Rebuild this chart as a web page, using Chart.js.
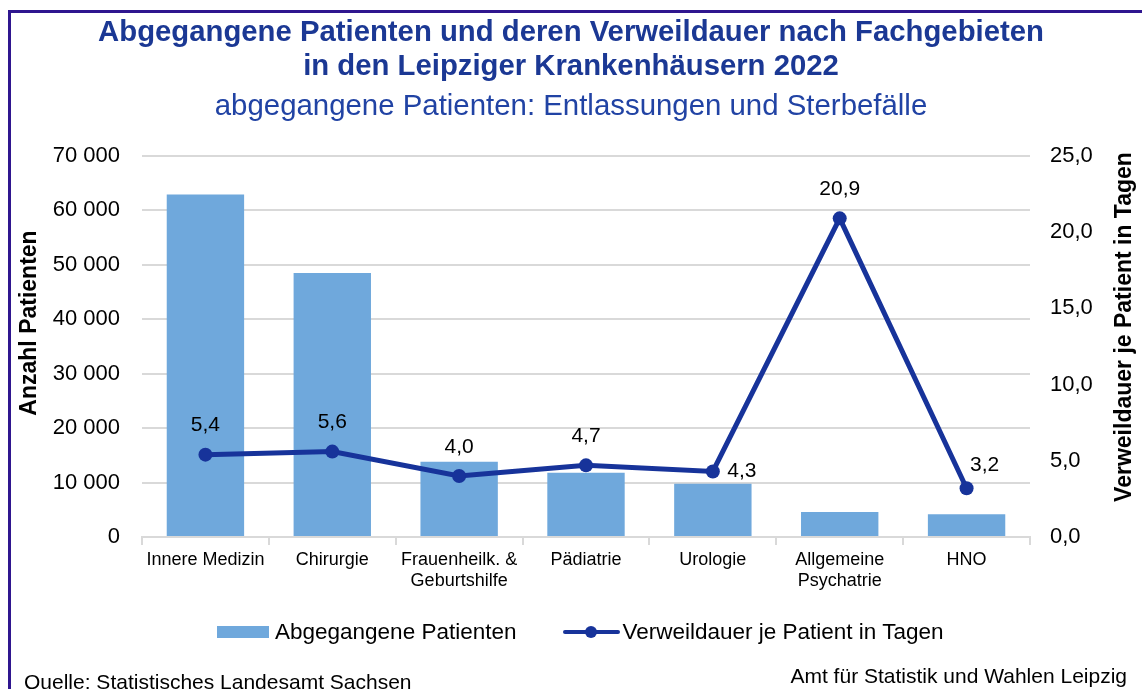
<!DOCTYPE html>
<html lang="de">
<head>
<meta charset="utf-8">
<title>Abgegangene Patienten und Verweildauer</title>
<script src="https://cdn.jsdelivr.net/npm/chart.js@4.4.1/dist/chart.umd.min.js"></script>
<style>
  html, body { margin: 0; padding: 0; background: #fff; }
  body { width: 1142px; height: 689px; position: relative; overflow: hidden;
         font-family: 'Liberation Sans', Arial, sans-serif; }
  #frame { position: absolute; left: 8px; top: 10px; width: 1160px; height: 720px;
           border: 3px solid #2f168f; box-sizing: border-box; }
  #wrap { position: absolute; left: 0; top: 0; width: 1142px; height: 689px; }
  #legend { position: absolute; left: 217px; top: 618px; height: 28px;
            display: flex; align-items: center; font-size: 22.5px; color: #000; }
  .lg-box { width: 52px; height: 12px; background: #6fa8dc; margin-right: 6px; }
  .lg-line { position: relative; width: 57px; height: 4px; background: #17339a;
             margin-left: 47px; margin-right: 2px; border-radius: 2px; }
  .lg-line::after { content: ''; position: absolute; left: 22px; top: -4px;
                    width: 12px; height: 12px; border-radius: 50%; background: #17339a; }
  .foot { position: absolute; font-size: 21px; color: #000; white-space: nowrap; }
</style>
</head>
<body>
<div id="frame"></div>
<div id="wrap"><canvas id="chart" width="1142" height="689"></canvas></div>
<div id="legend">
  <span class="lg-box"></span><span>Abgegangene Patienten</span>
  <span class="lg-line"></span><span>Verweildauer je Patient in Tagen</span>
</div>
<div class="foot" style="left:24px; top:670px;">Quelle: Statistisches Landesamt Sachsen</div>
<div class="foot" style="right:15px; top:664px;">Amt für Statistik und Wahlen Leipzig</div>

<script>
// ---- data ----
const categories = [
  'Innere Medizin',
  'Chirurgie',
  ['Frauenheilk. &', 'Geburtshilfe'],
  'Pädiatrie',
  'Urologie',
  ['Allgemeine', 'Psychatrie'],
  'HNO'
];
const patients = [62900, 48500, 13800, 11800, 9800, 4600, 4200];
const stayDays = [5.4, 5.6, 4.0, 4.7, 4.3, 20.9, 3.2];

const leftMax = 70000, leftStep = 10000;
const rightMax = 25, rightStep = 5;

// label placement for line values (style only)
const labelPos = ['top', 'top', 'top', 'top', 'right', 'top', 'topright'];

const COLORS = {
  bar:   '#6fa8dc',
  line:  '#17339a',
  title: '#1b3894',
  sub:   '#2143a4',
  grid:  '#d9d9d9',
  text:  '#000000',
};
const FONT = "'Liberation Sans', Arial, sans-serif";

const fmtThousands = v => String(v).replace(/\B(?=(\d{3})+(?!\d))/g, ' ');
const fmtDec = v => v.toFixed(1).replace('.', ',');

// value labels on the line + rotated axis titles
const extras = {
  id: 'extras',
  afterDatasetsDraw(chart) {
    const ctx = chart.ctx;
    const meta = chart.getDatasetMeta(1);
    ctx.save();
    ctx.font = '21px ' + FONT;
    ctx.fillStyle = COLORS.text;
    ctx.textAlign = 'center';
    ctx.textBaseline = 'middle';
    meta.data.forEach((pt, i) => {
      let dx = 0, dy = -29;
      if (labelPos[i] === 'right') { dx = 29; dy = 0; }
      if (labelPos[i] === 'topright') { dx = 18; dy = -23; }
      ctx.fillText(fmtDec(stayDays[i]), pt.x + dx, pt.y + dy);
    });
    ctx.restore();
  },
  afterDraw(chart) {
    const ctx = chart.ctx;
    ctx.save();
    ctx.font = 'bold 23px ' + FONT;
    ctx.fillStyle = COLORS.text;
    ctx.textAlign = 'center';
    ctx.textBaseline = 'middle';
    ctx.translate(30, 323);
    ctx.rotate(-Math.PI / 2);
    ctx.fillText('Anzahl Patienten', 0, 0);
    ctx.restore();
    ctx.save();
    ctx.font = 'bold 23px ' + FONT;
    ctx.fillStyle = COLORS.text;
    ctx.textAlign = 'center';
    ctx.textBaseline = 'middle';
    ctx.translate(1125, 327);
    ctx.rotate(-Math.PI / 2);
    ctx.fillText('Verweildauer je Patient in Tagen', 0, 0);
    ctx.restore();
  }
};

new Chart(document.getElementById('chart'), {
  data: {
    labels: categories,
    datasets: [
      {
        type: 'bar',
        label: 'Abgegangene Patienten',
        data: patients,
        backgroundColor: COLORS.bar,
        borderWidth: 0,
        barPercentage: 0.61,
        categoryPercentage: 1,
        yAxisID: 'y',
        order: 2,
      },
      {
        type: 'line',
        label: 'Verweildauer je Patient in Tagen',
        data: stayDays,
        borderColor: COLORS.line,
        backgroundColor: COLORS.line,
        borderWidth: 5,
        pointRadius: 7,
        pointBackgroundColor: COLORS.line,
        pointBorderWidth: 0,
        tension: 0,
        yAxisID: 'y1',
        order: 1,
      }
    ]
  },
  options: {
    responsive: false,
    animation: false,
    layout: { padding: 0 },
    plugins: {
      legend: { display: false },
      tooltip: { enabled: false },
      title: {
        display: true,
        text: ['Abgegangene Patienten und deren Verweildauer nach Fachgebieten',
               'in den Leipziger Krankenhäusern 2022'],
        color: COLORS.title,
        font: { family: FONT, size: 29.3, weight: 'bold', lineHeight: 34 / 29.3 },
        padding: { top: 16, bottom: 0 },
      },
      subtitle: {
        display: true,
        text: 'abgegangene Patienten: Entlassungen und Sterbefälle',
        color: COLORS.sub,
        font: { family: FONT, size: 29.4, weight: 'normal', lineHeight: 1.15 },
        padding: { top: 6, bottom: 32 },
      }
    },
    scales: {
      x: {
        grid: { display: true, offset: true, drawOnChartArea: false, drawTicks: true,
                tickLength: 8, color: COLORS.grid, lineWidth: 2 },
        border: { display: true, color: COLORS.grid, width: 2 },
        ticks: { color: COLORS.text, font: { family: FONT, size: 18 }, padding: 4,
                 maxRotation: 0, autoSkip: false },
        afterFit(scale) { scale.height = 152; },
      },
      y: {
        position: 'left',
        min: 0, max: leftMax,
        grid: { color: COLORS.grid, lineWidth: 2, drawTicks: false },
        border: { display: false },
        ticks: { stepSize: leftStep, color: COLORS.text, padding: 22,
                 font: { family: FONT, size: 22 }, callback: v => fmtThousands(v) },
        afterFit(scale) { scale.width = 142; },
      },
      y1: {
        position: 'right',
        min: 0, max: rightMax,
        grid: { display: false, drawTicks: false },
        border: { display: false },
        ticks: { stepSize: rightStep, color: COLORS.text, padding: 20,
                 font: { family: FONT, size: 22 }, callback: v => fmtDec(v) },
        afterFit(scale) { scale.width = 112; },
      }
    }
  },
  plugins: [extras]
});
</script>
</body>
</html>
